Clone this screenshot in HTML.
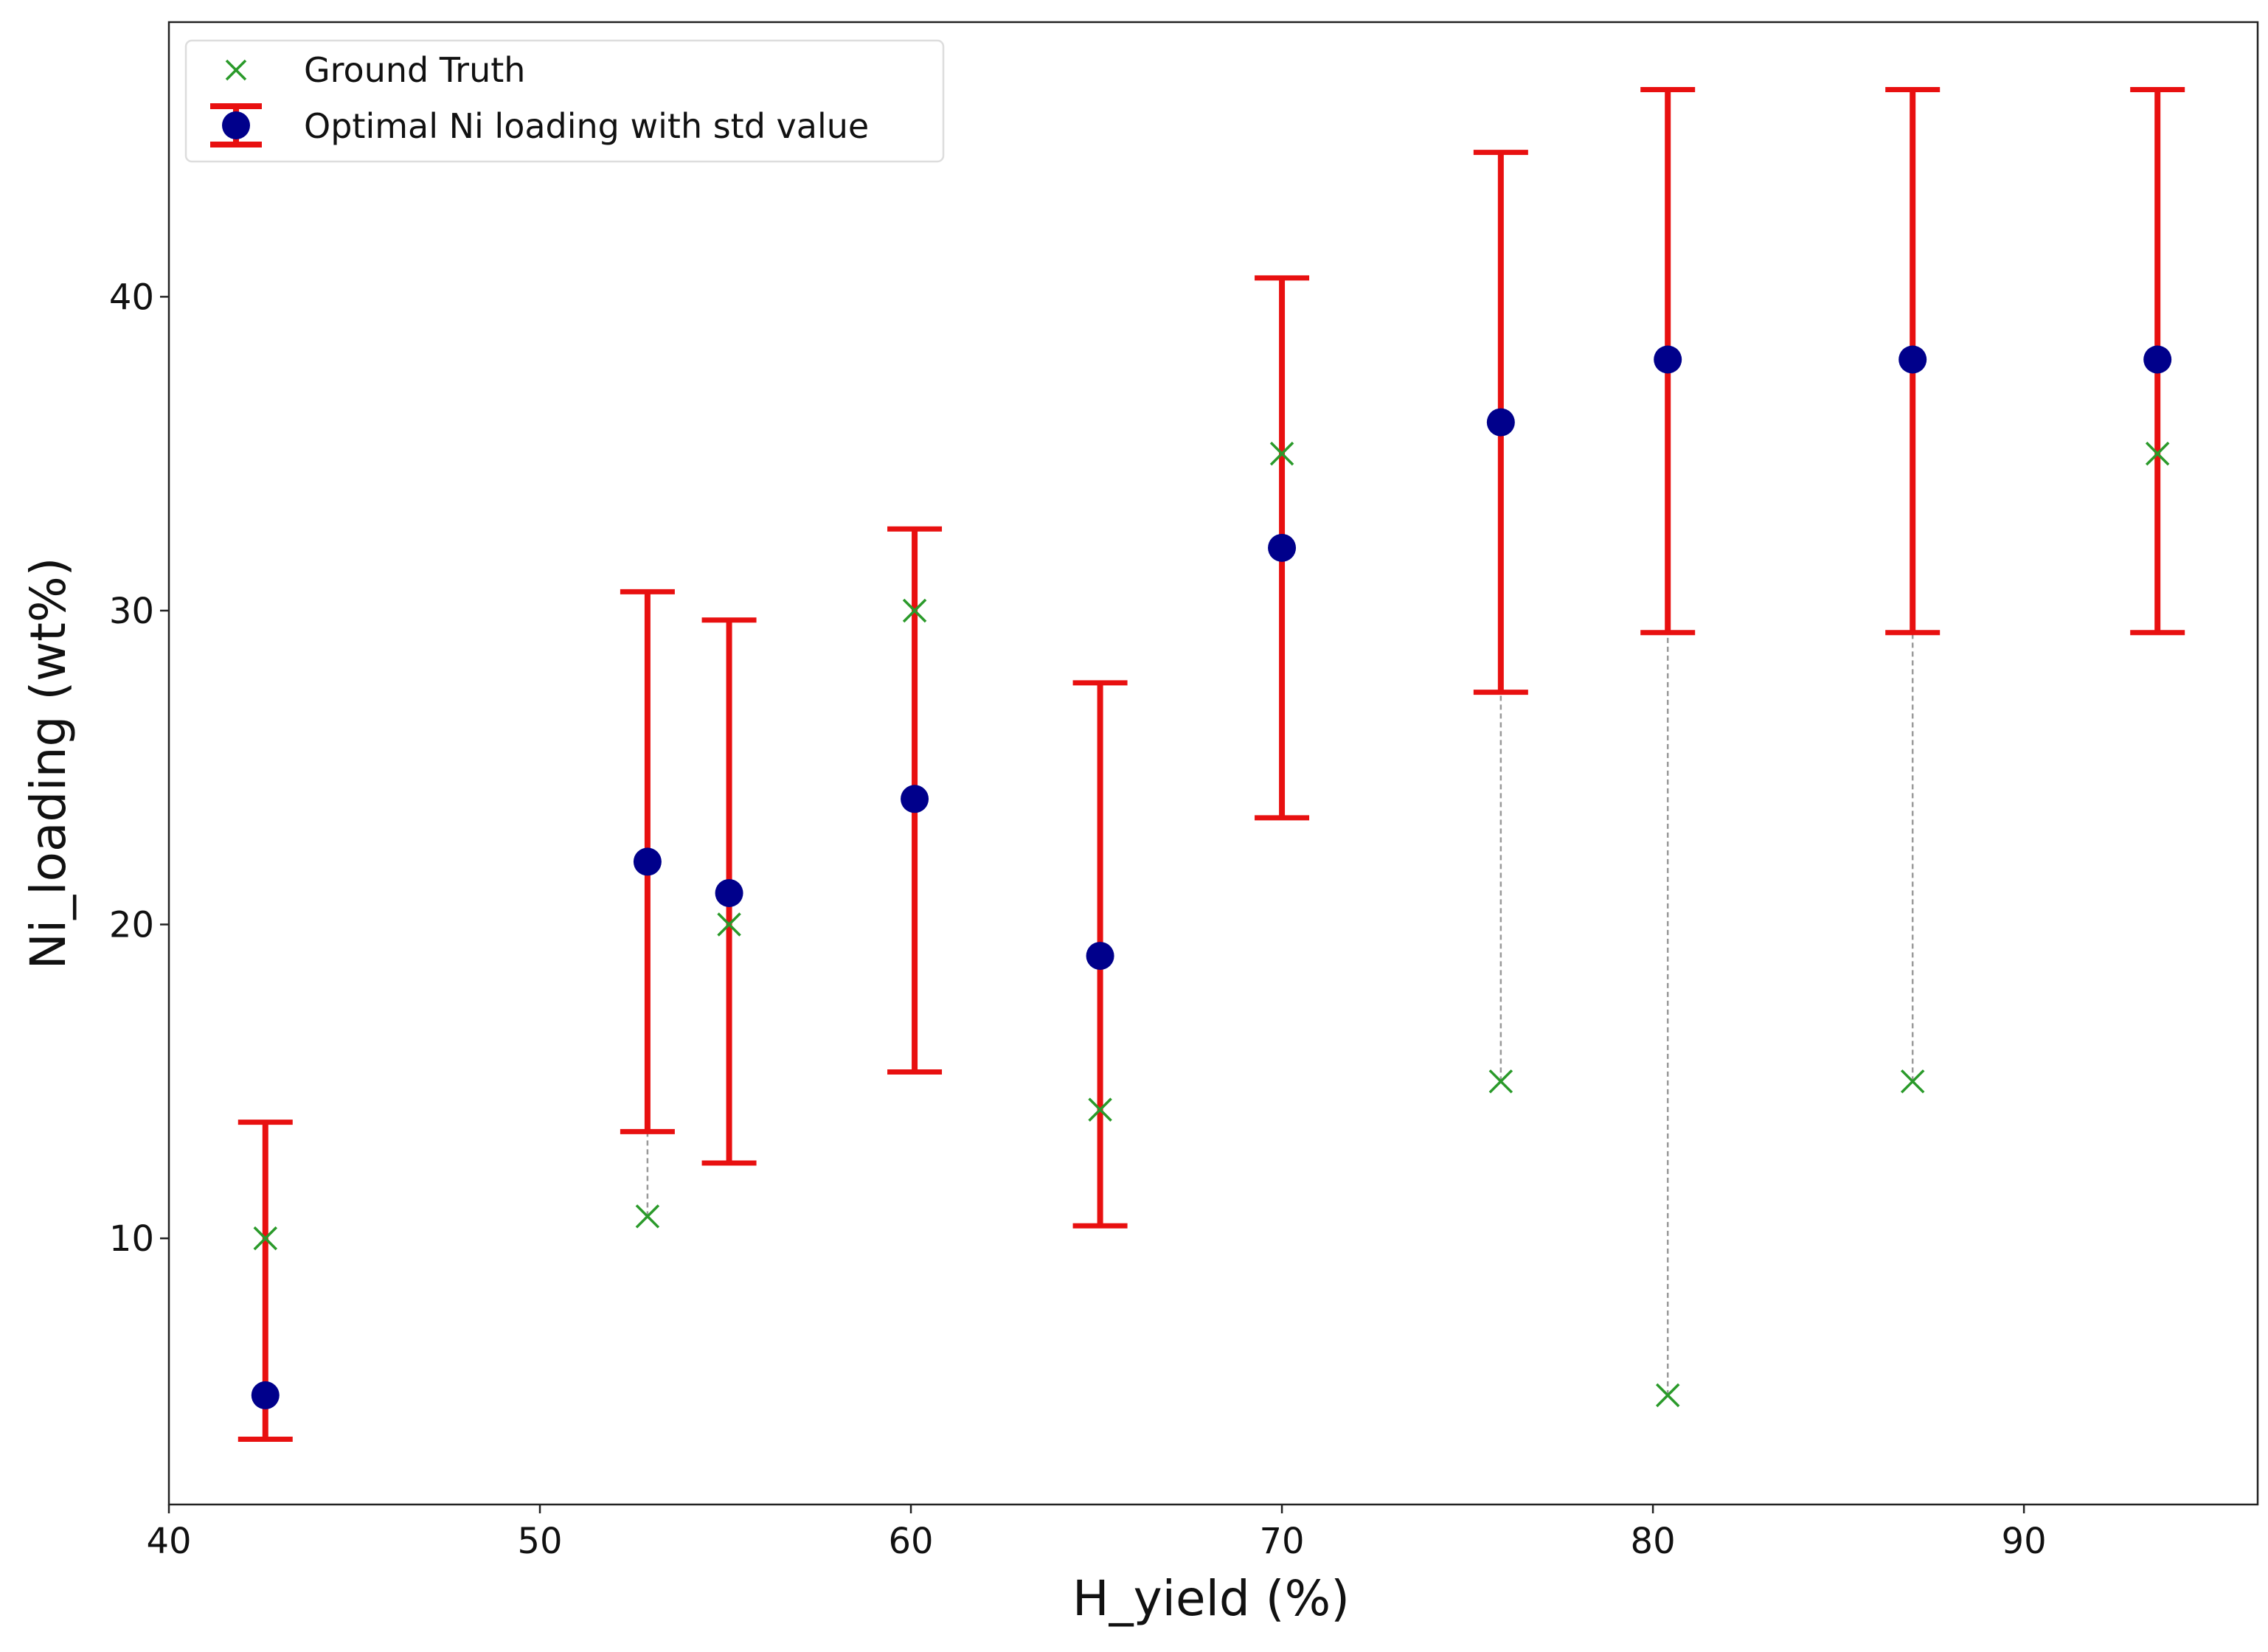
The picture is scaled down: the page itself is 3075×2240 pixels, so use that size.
<!DOCTYPE html>
<html><head><meta charset="utf-8"><style>
html,body{margin:0;padding:0;background:#fff;}
svg text{font-family:"DejaVu Sans","Liberation Sans",sans-serif;fill:#111;}
</style></head><body>
<svg id="chart" width="3075" height="2235" xmlns="http://www.w3.org/2000/svg">
<rect x="0" y="0" width="3075" height="2235" fill="#fff"/>
<g id="marks"></g>
<rect x="229" y="30" width="2832" height="2010" fill="none" stroke="#222" stroke-width="2.5"/>
<g id="ticks"></g>
<text x="1642" y="2190" font-size="66" text-anchor="middle">H_yield (%)</text>
<text transform="translate(88,1035) rotate(-90)" font-size="66" text-anchor="middle">Ni_loading (wt%)</text>
<g>
<rect x="252" y="55" width="1027" height="164" rx="8" fill="#fff" stroke="#ddd" stroke-width="2.5"/>
<g>
<path d="M307 82 L333 108 M333 82 L307 108" stroke="#2a9a2a" stroke-width="3.5"/>
<text x="412" y="111" font-size="46">Ground Truth</text>
</g>
<g>
<line x1="320" y1="144" x2="320" y2="196" stroke="#e81010" stroke-width="8"/>
<line x1="285" y1="144" x2="355" y2="144" stroke="#e81010" stroke-width="8"/>
<line x1="285" y1="196" x2="355" y2="196" stroke="#e81010" stroke-width="8"/>
<circle cx="320" cy="170" r="19" fill="#00008b"/>
<text x="412" y="187" font-size="46">Optimal Ni loading with std value</text>
</g>
</g>
</svg>
<script>
const xVals=[42.6,52.9,55.1,60.1,65.1,70.0,75.9,80.4,87.0,93.6];
const predVals=[5,22,21,24,19,32,36,38,38,38];
const lowerVals=[3.6,13.4,12.4,15.3,10.4,23.4,27.4,29.3,29.3,29.3];
const upperVals=[13.7,30.6,29.7,32.6,27.7,40.6,44.6,46.6,46.6,46.6];
const truthVals=[10,10.7,20,30,14.1,35,15,5,15,35];
const xTicks=[40,50,60,70,80,90];
const yTicks=[10,20,30,40];

const X0=229,X1=3061,Y0=2040,Y1=30,xmin=40,xmax=96.3,ymin=1.52,ymax=48.75;
const sx=v=>X0+(v-xmin)/(xmax-xmin)*(X1-X0);
const sy=v=>Y0-(v-ymin)/(ymax-ymin)*(Y0-Y1);
const NS="http://www.w3.org/2000/svg";
function mk(tag,attrs,parent){const e=document.createElementNS(NS,tag);for(const k in attrs)e.setAttribute(k,attrs[k]);parent.appendChild(e);return e;}
const marks=document.getElementById('marks'),ticks=document.getElementById('ticks');
xTicks.forEach(t=>{
  const g=mk('g',{},ticks);
  
  
  mk('line',{x1:sx(t),x2:sx(t),y1:Y0,y2:Y0+12,stroke:'#222','stroke-width':2.5},g);
  const tx=mk('text',{x:sx(t),y:Y0+66,'font-size':48,'text-anchor':'middle'},g);tx.textContent=t;
});
yTicks.forEach(t=>{
  const g=mk('g',{},ticks);
  
  
  mk('line',{x1:X0-12,x2:X0,y1:sy(t),y2:sy(t),stroke:'#222','stroke-width':2.5},g);
  const tx=mk('text',{x:X0-20,y:sy(t)+17,'font-size':48,'text-anchor':'end'},g);tx.textContent=t;
});
xVals.forEach((xv,i)=>{
  const x=sx(xv);
  const d=mk('line',{x1:x,x2:x,y1:sy(truthVals[i]),y2:sy(predVals[i]),stroke:'#999','stroke-width':2.5,'stroke-dasharray':'7,5'},marks);
  
  
});
xVals.forEach((xv,i)=>{
  const x=sx(xv);
  const g=mk('g',{},marks);
  
  
  mk('line',{x1:x,x2:x,y1:sy(lowerVals[i]),y2:sy(upperVals[i]),stroke:'#e81010','stroke-width':8},g);
  mk('line',{x1:x-37,x2:x+37,y1:sy(lowerVals[i]),y2:sy(lowerVals[i]),stroke:'#e81010','stroke-width':7},g);
  mk('line',{x1:x-37,x2:x+37,y1:sy(upperVals[i]),y2:sy(upperVals[i]),stroke:'#e81010','stroke-width':7},g);
});
xVals.forEach((xv,i)=>{
  const x=sx(xv),y=sy(truthVals[i]);
  const p=mk('path',{d:`M${x-15} ${y-15} L${x+15} ${y+15} M${x+15} ${y-15} L${x-15} ${y+15}`,stroke:'#2a9a2a','stroke-width':3.5},marks);
  
  
});
xVals.forEach((xv,i)=>{
  const c=mk('circle',{cx:sx(xv),cy:sy(predVals[i]),r:19,fill:'#00008b'},marks);
  
  
});
</script>
</body></html>
